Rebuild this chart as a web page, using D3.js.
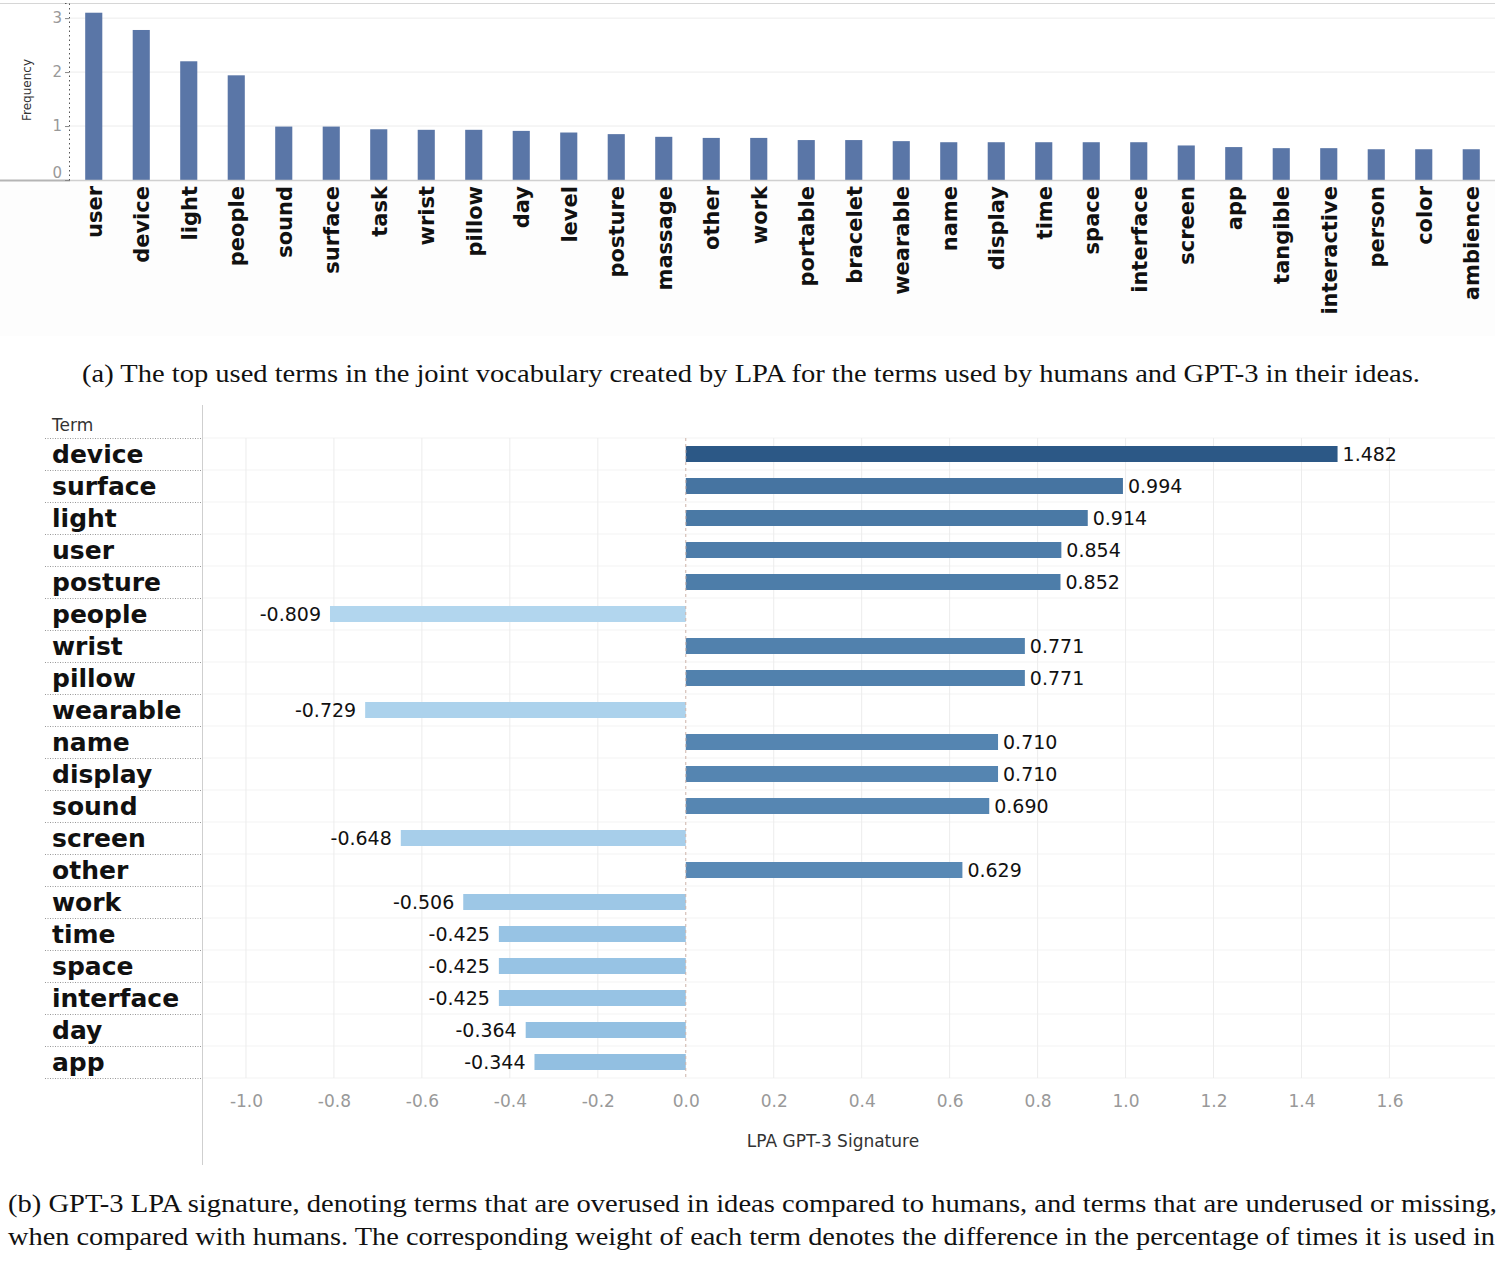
<!DOCTYPE html>
<meta charset="utf-8">
<style>
body { margin: 0; background: #fff; }
svg { display: block; }
.grid line { stroke: #ececec; }
.caption { font-family: "Liberation Serif", serif; font-size: 25px; fill: #111; }
</style>
<body>
<script src="https://cdn.jsdelivr.net/npm/d3@7"></script>
<script>

// (a) top terms and their frequency
var terms = ["user", "device", "light", "people", "sound", "surface", "task", "wrist",
  "pillow", "day", "level", "posture", "massage", "other", "work", "portable", "bracelet",
  "wearable", "name", "display", "time", "space", "interface", "screen", "app", "tangible",
  "interactive", "person", "color", "ambience"];
var frequency = [3.10, 2.78, 2.20, 1.94, 0.99, 0.99, 0.94, 0.93, 0.93, 0.91, 0.88, 0.85,
  0.80, 0.78, 0.78, 0.74, 0.74, 0.72, 0.70, 0.70, 0.70, 0.70, 0.70, 0.64, 0.61, 0.59,
  0.59, 0.57, 0.57, 0.57];
var freqTicks = [0, 1, 2, 3];

// (b) GPT-3 LPA signature
var sigTerms = ["device", "surface", "light", "user", "posture", "people", "wrist", "pillow",
  "wearable", "name", "display", "sound", "screen", "other", "work", "time", "space",
  "interface", "day", "app"];
var signature = [1.482, 0.994, 0.914, 0.854, 0.852, -0.809, 0.771, 0.771, -0.729, 0.710,
  0.710, 0.690, -0.648, 0.629, -0.506, -0.425, -0.425, -0.425, -0.364, -0.344];
var sigTicks = [-1.0, -0.8, -0.6, -0.4, -0.2, 0.0, 0.2, 0.4, 0.6, 0.8, 1.0, 1.2, 1.4, 1.6];

var captionA = "(a) The top used terms in the joint vocabulary created by LPA for the terms used by humans and GPT-3 in their ideas.";
var captionB = ["(b) GPT-3 LPA signature, denoting terms that are overused in ideas compared to humans, and terms that are underused or missing,",
  "when compared with humans. The corresponding weight of each term denotes the difference in the percentage of times it is used in"];

var W = 1508, H = 1262;
var svg = d3.select("body").append("svg")
    .attr("width", W)
    .attr("height", H);

// ---------- (a) frequency bars ----------
var x1 = d3.scaleBand()
    .domain(terms)
    .range([70, 1495])
    .paddingInner(0.64)
    .paddingOuter(0.32);
var y1 = d3.scaleLinear().domain([0, 3.28]).range([180, 3]);

var gTop = svg.append("g");

// faint band behind the rotated labels
gTop.append("rect")
    .attr("x", 0).attr("y", 180)
    .attr("width", 1495).attr("height", 156)
    .attr("fill", "#fdfdfd");

gTop.append("g").attr("class", "grid")
  .selectAll("line")
  .data(freqTicks.slice(1))
  .enter().append("line")
    .attr("x1", 70).attr("x2", 1495)
    .attr("y1", function(d) { return y1(d); })
    .attr("y2", function(d) { return y1(d); });

gTop.append("line")
    .attr("x1", 0).attr("x2", 1495)
    .attr("y1", 3.5).attr("y2", 3.5)
    .attr("stroke", "#d6d6d6");

gTop.selectAll(".bar")
    .data(terms)
  .enter().append("rect")
    .attr("class", "bar")
    .attr("x", function(d) { return x1(d); })
    .attr("width", x1.bandwidth())
    .attr("y", function(d, i) { return y1(frequency[i]); })
    .attr("height", function(d, i) { return y1(0) - y1(frequency[i]); })
    .attr("fill", "#5a76a7");

// baseline
gTop.append("line")
    .attr("x1", 70).attr("x2", 1495)
    .attr("y1", 180.5).attr("y2", 180.5)
    .attr("stroke", "#d0d0d0").attr("stroke-width", 1.5);
gTop.append("line")
    .attr("x1", 0).attr("x2", 70)
    .attr("y1", 180.5).attr("y2", 180.5)
    .attr("stroke", "#b5b5b5").attr("stroke-width", 2);

// y axis
var yAxis1 = gTop.append("g")
    .attr("transform", "translate(69,0)")
    .call(d3.axisLeft(y1).tickValues(freqTicks).tickFormat(d3.format("d"))
      .tickSize(4).tickPadding(3));
yAxis1.select(".domain").attr("stroke", "#555").attr("stroke-dasharray", "1.5,3");
yAxis1.selectAll(".tick line").attr("stroke", "#888");
yAxis1.selectAll(".tick text")
    .attr("fill", "#999")
    .style("font-family", "DejaVu Sans")
    .style("font-size", "15px");
yAxis1.selectAll(".tick").filter(function(d) { return d === 0; })
    .select("text").attr("dy", "-0.2em");

gTop.append("text")
    .attr("transform", "translate(31,90) rotate(-90)")
    .attr("text-anchor", "middle")
    .style("font-family", "DejaVu Sans")
    .style("font-size", "12px")
    .attr("fill", "#333")
    .text("Frequency");

// rotated term labels
gTop.selectAll(".term")
    .data(terms)
  .enter().append("text")
    .attr("class", "term")
    .attr("transform", function(d) {
      return "translate(" + (x1(d) + x1.bandwidth() / 2 + 8) + ",186) rotate(-90)";
    })
    .attr("text-anchor", "end")
    .style("font-family", "DejaVu Sans")
    .style("font-weight", "bold")
    .style("font-size", "21px")
    .attr("fill", "#111")
    .text(function(d) { return d; });

svg.append("text")
    .attr("class", "caption")
    .attr("x", 751).attr("y", 382)
    .attr("text-anchor", "middle")
    .attr("textLength", 1338)
    .attr("lengthAdjust", "spacingAndGlyphs")
    .text(captionA);

// ---------- (b) signature bars ----------
var x2 = d3.scaleLinear().domain([-1.1, 1.84]).range([202, 1495]);
var y2 = d3.scaleBand()
    .domain(sigTerms)
    .range([438, 1078])
    .paddingInner(0.5)
    .paddingOuter(0.25);
var ext = d3.extent(signature);
var color = d3.scaleLinear()
    .domain([ext[0], 0, ext[1]])
    .range(["#b2d6ee", "#7aaed8", "#2c5886"]);

var gBot = svg.append("g");
var rowStep = y2.step();
var rowEdges = d3.range(sigTerms.length + 1).map(function(i) { return 438 + i * rowStep; });

// faint horizontal row lines in the plot
gBot.append("g")
  .selectAll("line")
  .data(rowEdges)
  .enter().append("line")
    .attr("x1", 202).attr("x2", 1495)
    .attr("y1", function(d) { return d; })
    .attr("y2", function(d) { return d; })
    .attr("stroke", "#f3f3f3");

// vertical grid
gBot.append("g").attr("class", "grid")
  .selectAll("line")
  .data(sigTicks.filter(function(d) { return d !== 0; }))
  .enter().append("line")
    .attr("x1", function(d) { return x2(d); })
    .attr("x2", function(d) { return x2(d); })
    .attr("y1", 438).attr("y2", 1078);

// dotted separators under the row labels
gBot.append("g")
  .selectAll("line")
  .data(rowEdges)
  .enter().append("line")
    .attr("x1", 45).attr("x2", 202)
    .attr("y1", function(d) { return d + 0.5; })
    .attr("y2", function(d) { return d + 0.5; })
    .attr("stroke", "#999")
    .attr("stroke-dasharray", "1,1.5");

gBot.append("line")
    .attr("x1", 202.5).attr("x2", 202.5)
    .attr("y1", 405).attr("y2", 1165)
    .attr("stroke", "#cfcfcf");

gBot.selectAll(".sbar")
    .data(sigTerms)
  .enter().append("rect")
    .attr("class", "sbar")
    .attr("x", function(d, i) { return x2(Math.min(0, signature[i])); })
    .attr("width", function(d, i) { return Math.abs(x2(signature[i]) - x2(0)); })
    .attr("y", function(d) { return y2(d); })
    .attr("height", y2.bandwidth())
    .attr("fill", function(d, i) { return color(signature[i]); });

// zero line
gBot.append("line")
    .attr("x1", x2(0)).attr("x2", x2(0))
    .attr("y1", 438).attr("y2", 1078)
    .attr("stroke", "#cdb3aa")
    .attr("stroke-dasharray", "3,3");

// value labels
gBot.selectAll(".val")
    .data(sigTerms)
  .enter().append("text")
    .attr("class", "val")
    .attr("x", function(d, i) {
      return signature[i] >= 0 ? x2(signature[i]) + 5 : x2(signature[i]) - 9;
    })
    .attr("y", function(d) { return y2(d) + y2.bandwidth() / 2; })
    .attr("dy", "0.36em")
    .attr("text-anchor", function(d, i) { return signature[i] >= 0 ? "start" : "end"; })
    .style("font-family", "DejaVu Sans")
    .style("font-size", "19px")
    .attr("fill", "#111")
    .text(function(d, i) { return d3.format(".3f")(signature[i]).replace("−", "-"); });

// row labels
gBot.append("text")
    .attr("x", 52).attr("y", 431)
    .style("font-family", "DejaVu Sans")
    .style("font-size", "17px")
    .attr("fill", "#333")
    .text("Term");

gBot.selectAll(".rowlab")
    .data(sigTerms)
  .enter().append("text")
    .attr("class", "rowlab")
    .attr("x", 52)
    .attr("y", function(d) { return y2(d) + y2.bandwidth() / 2; })
    .attr("dy", "0.36em")
    .style("font-family", "DejaVu Sans")
    .style("font-weight", "bold")
    .style("font-size", "25px")
    .attr("fill", "#111")
    .text(function(d) { return d; });

// x axis
var xAxis2 = gBot.append("g")
    .attr("transform", "translate(0,1095)")
    .call(d3.axisBottom(x2).tickValues(sigTicks).tickSize(0).tickPadding(0)
      .tickFormat(function(d) { return d3.format(".1f")(d).replace("−", "-"); }));
xAxis2.select(".domain").remove();
xAxis2.selectAll(".tick text")
    .attr("dy", "0.71em")
    .attr("fill", "#999")
    .style("font-family", "DejaVu Sans")
    .style("font-size", "17px");

gBot.append("text")
    .attr("x", 833).attr("y", 1147)
    .attr("text-anchor", "middle")
    .style("font-family", "DejaVu Sans")
    .style("font-size", "17px")
    .attr("fill", "#333")
    .text("LPA GPT-3 Signature");

svg.selectAll(".capb")
    .data(captionB)
  .enter().append("text")
    .attr("class", "caption capb")
    .attr("x", 8)
    .attr("y", function(d, i) { return 1212 + i * 33; })
    .attr("textLength", function(d, i) { return i === 0 ? 1489 : 1487; })
    .attr("lengthAdjust", "spacingAndGlyphs")
    .text(function(d) { return d; });

</script>
</body>
